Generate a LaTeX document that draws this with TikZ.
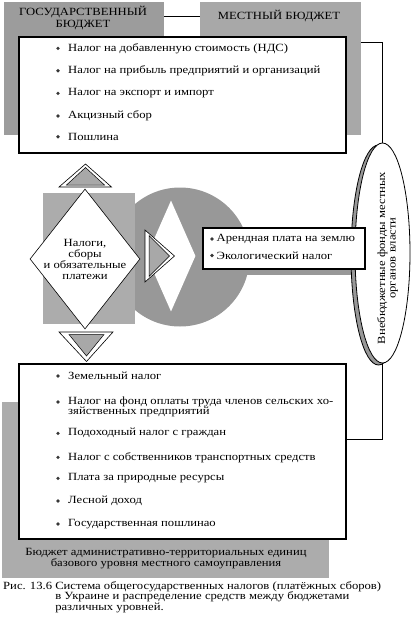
\documentclass[tikz,border=0pt]{standalone}
\usepackage{fontspec}
\setmainfont[FakeStretch=1.15]{Liberation Serif}
\definecolor{StateGray}{RGB}{156,156,156}
\definecolor{LocalGray}{RGB}{168,168,168}
\definecolor{PaleGray}{RGB}{172,172,172}
\definecolor{DiscGray}{RGB}{152,152,152}
\definecolor{DotGray}{RGB}{55,55,55}
\usetikzlibrary{shapes.geometric, positioning, calc, shadows}

\begin{document}
\begin{tikzpicture}[x=1pt, y=-1pt,
    every node/.style={font=\fontsize{11}{10.5}\selectfont},
    panel/.style={inner sep=0pt, anchor=north west},
    listbox/.style={draw=black, line width=1.8pt, fill=white, inner sep=0pt, anchor=north west},
    entry/.style={anchor=west, inner sep=0pt, align=left},
    outertri/.style={draw=black, fill=white, line width=0.6pt},
    innertri/.style={draw=black, fill=LocalGray, line width=0.5pt}]
  \useasboundingbox (0,0) rectangle (411,622);
  % Budget headers
  \node[panel, fill=StateGray, minimum width=160, minimum height=133] (gosbud) at (4,2) {};
  \node[panel, fill=LocalGray, minimum width=161, minimum height=133] (mestbud) at (200,2) {};
  \node[align=center, inner sep=0pt, font=\fontsize{11}{12}\selectfont] (gostxt) at (83,18) {ГОСУДАРСТВЕННЫЙ\\БЮДЖЕТ};
  \node[inner sep=0pt] (mesttxt) at (279,16.5) {МЕСТНЫЙ БЮДЖЕТ};
  \draw[thin] (gosbud.east |- mesttxt) -- (mestbud.west |- mesttxt);
  % Nationwide taxes
  \node[listbox, minimum width=327, minimum height=116] (nalogtop) at (18,36) {};
  \foreach \y/\txt [count=\i] in {48.3/Налог на добавленную стоимость (НДС),
      70.7/Налог на прибыль предприятий и организаций, 93.3/Налог на экспорт и импорт,
      116/Акцизный сбор, 136.7/Пошлина}
  {
    \fill[DotGray] (58,\y) circle (1.8);
    \node[entry] (top\i) at (68,\y) {\txt};
  }
  % Central disc and diamond
  \node[circle, fill=DiscGray, minimum size=139, inner sep=0pt] (disc) at (180,257) {};
  \fill[DiscGray] (disc.center) ++(0,-17) rectangle (356,275);
  \node[diamond, fill=white, minimum width=49, minimum height=111, inner sep=0pt] (slot) at (171,256) {};
  \node[panel, fill=PaleGray, minimum width=92, minimum height=131] (sqr) at (43,193) {};
  \node[diamond, draw=black, fill=white, line width=0.6pt, minimum width=110,
        minimum height=140, inner sep=0pt] (nalogi) at (85,259) {};
  \node[align=center, inner sep=0pt, font=\fontsize{11}{11}\selectfont] (nalogitxt)
        at (nalogi.center) {Налоги,\\сборы\\и обязательные\\платежи};
  % Arrow triangles
  \draw[outertri] (59,187) -- (85.5,164) -- (111.5,187) -- cycle;
  \draw[innertri] (66.5,185) -- (85.5,167.5) -- (104.5,185) -- cycle;
  \draw[outertri] (59,332) -- (86.5,361.5) -- (113,332) -- cycle;
  \draw[innertri] (69,334.5) -- (86.5,356) -- (104,334.5) -- cycle;
  \draw[outertri] (145,230) -- (174.5,256) -- (145,282) -- cycle;
  \draw[innertri] (149,235.5) -- (169.5,256) -- (149,276.5) -- cycle;
  % Local budget taxes
  \node[panel, fill=PaleGray, minimum width=327, minimum height=176] (admbud) at (2,402) {};
  \node[align=center, inner sep=0pt] (admtxt) at (166,558.5)
        {Бюджет административно-территориальных единиц\\базового уровня местного самоуправления};
  \node[listbox, minimum width=327, minimum height=175] (nalogbot) at (18,363) {};
  \foreach \b/\y/\txt [count=\i] in {376/376/Земельный налог,
      402/407/{Налог на фонд оплаты труда членов сельских хо-\\зяйственных предприятий},
      433.3/433.3/Подоходный налог с граждан, 457.3/457.3/Налог с собственников транспортных средств,
      478.3/478.3/Плата за природные ресурсы, 501/501/Лесной доход, 524/524/Государственная пошлинао}
  {
    \fill[DotGray] (58,\b) circle (1.8);
    \node[entry] (bot\i) at (68,\y) {\txt};
  }
  % Extra-budgetary funds
  \node[ellipse, draw=black, fill=white, line width=0.8pt, minimum width=55, minimum height=220,
        inner sep=0pt, copy shadow={shadow xshift=-4pt, shadow yshift=-2pt, fill=DiscGray}]
        (vneb) at (382.5,253) {};
  \node[rotate=90, align=center, inner sep=0pt] (vnebtxt) at (387.5,258)
        {Внебюджетные фонды местных\\органов власти};
  \coordinate (tfork) at (382.5,42);
  \coordinate (bfork) at (382.5,439);
  \draw (mestbud.east |- tfork) -- (tfork) -- (vneb.north);
  \draw (vneb.south) -- (bfork) -- (nalogbot.east |- bfork);
  % Local fees box
  \node[listbox, minimum width=162, minimum height=41] (zemlya) at (202,227) {};
  \foreach \y/\txt [count=\i] in {239/Арендная плата на землю, 255.5/Экологический налог}
  {
    \fill[DotGray] (212,\y) circle (1.8);
    \node[entry] (zem\i) at (216.5,\y) {\txt};
  }
  % Caption
  \node[anchor=base west, inner sep=0pt, font=\fontsize{11}{9.5}\selectfont] (caption) at (3,589)
        {Рис. 13.6 \begin{tabular}[t]{@{}l@{}}Система общегосударственных налогов (платёжных сборов)\\
         в Украине и распределение средств между бюджетами\\различных уровней.\end{tabular}};
\end{tikzpicture}
\end{document}
